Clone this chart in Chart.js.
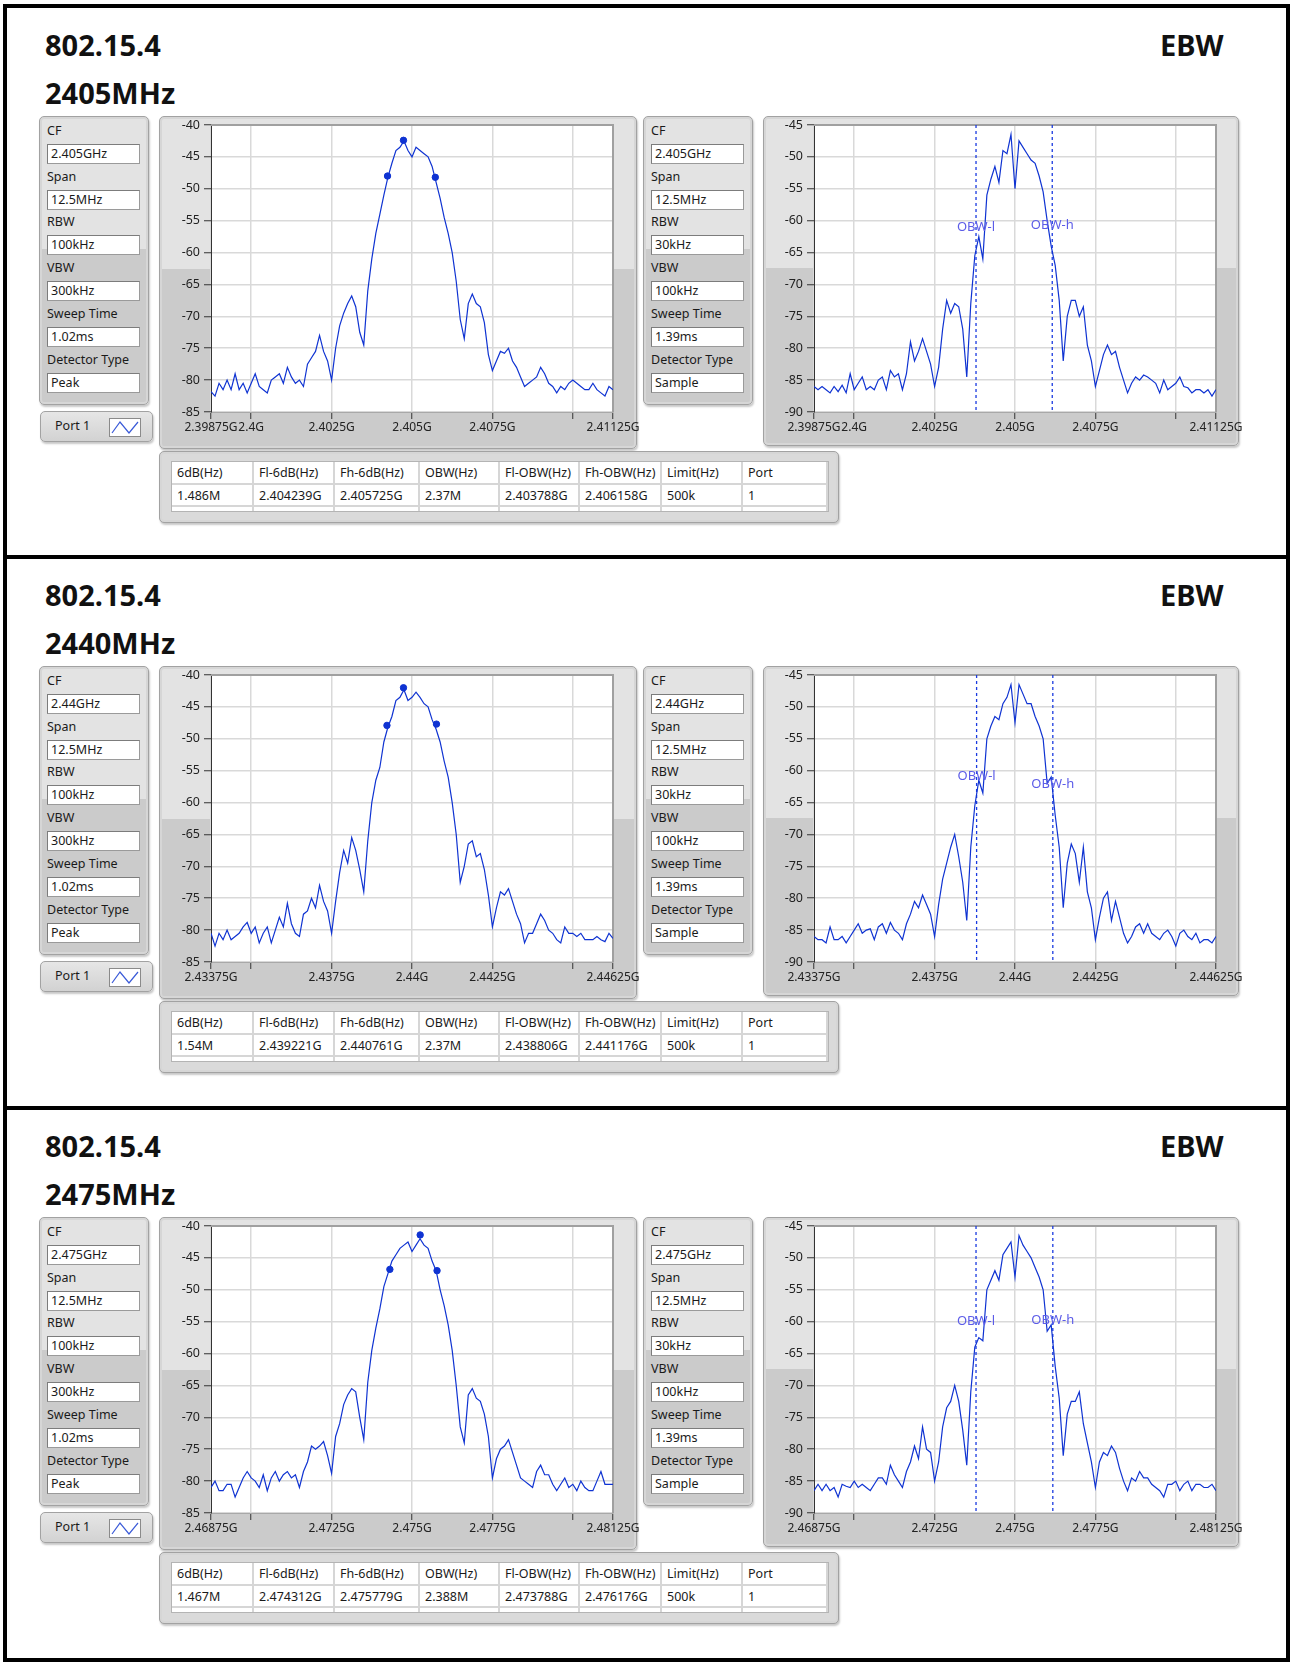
<!DOCTYPE html>
<html>
<head>
<meta charset="utf-8">
<title>802.15.4 EBW</title>
<script src="https://cdn.jsdelivr.net/npm/chart.js@4.4.1/dist/chart.umd.min.js"></script>
<style>
  body { margin: 0; width: 1290px; height: 1664px; background: #fff; position: relative; overflow: hidden;
         font-family: "Noto Sans", "Open Sans", sans-serif; color: #1a1a1a; }
  .frame { position: absolute; left: 3px; top: 4px; width: 1287px; height: 1658px; box-sizing: border-box; border: 4px solid #000; }
  .divider { position: absolute; left: 3px; width: 1287px; height: 4px; background: #000; }
  .section { position: absolute; left: 0; width: 1290px; height: 550px; }
  .title { position: absolute; font-weight: 700; font-size: 29px; line-height: 29px; color: #111; white-space: nowrap; }
  .panel { position: absolute; box-sizing: border-box; border: 1px solid #a2a2a2; border-radius: 5px;
           background: linear-gradient(#e3e3e3 0, #e3e3e3 46%, #cbcbcb 46%, #cbcbcb 100%);
           box-shadow: inset 0 0 0 2px #d6d6d6, 1px 2px 2px rgba(0,0,0,0.22); }
  .plabel { position: absolute; left: 7px; font-size: 12.5px; line-height: 18px; color: #1a1a1a; white-space: nowrap; }
  .pbox { position: absolute; left: 7px; width: 93px; height: 20px; box-sizing: border-box; background: #fff;
          border: 1px solid #9a9a9a; border-top-color: #7c7c7c; border-left-color: #7c7c7c;
          font-size: 12.5px; line-height: 18px; padding-left: 3px; white-space: nowrap; }
  .port { position: absolute; box-sizing: border-box; border: 1px solid #a2a2a2; border-radius: 5px;
          background: linear-gradient(#e6e6e6, #d2d2d2); box-shadow: 1px 2px 2px rgba(0,0,0,0.22); }
  .port span { position: absolute; left: 14px; top: 5px; font-size: 12.5px; line-height: 18px; }
  .port svg { position: absolute; left: 68px; top: 6px; }
  canvas { position: absolute; }
  table.res { position: absolute; left: 12px; top: 10px; border-collapse: collapse; table-layout: fixed; background: #fff;
              font-size: 12.5px; color: #1a1a1a; box-shadow: 0 0 0 1px #b4b4b4; }
  table.res td { border-right: 2px solid #d6d6d6; border-bottom: 2px solid #d6d6d6; padding: 0 0 0 5px; white-space: nowrap; overflow: hidden; }
  table.res tr.h td { height: 21px; }
  table.res tr.d td { height: 20px; }
  table.res tr.e td { height: 4px; padding: 0; border-bottom: none; }
</style>
</head>
<body>
<div class="frame"></div>
<div class="divider" style="top:555px"></div>
<div class="divider" style="top:1106px"></div>

<script>
// ---- data ----
const sectionTitles = ['2405MHz', '2440MHz', '2475MHz'];
const cfGHz = [2.405, 2.44, 2.475];

const paramNames = ['CF', 'Span', 'RBW', 'VBW', 'Sweep Time', 'Detector Type'];
const leftParams1 = ['2.405GHz', '12.5MHz', '100kHz', '300kHz', '1.02ms', 'Peak'];
const rightParams1 = ['2.405GHz', '12.5MHz', '30kHz', '100kHz', '1.39ms', 'Sample'];
const leftParams2 = ['2.44GHz', '12.5MHz', '100kHz', '300kHz', '1.02ms', 'Peak'];
const rightParams2 = ['2.44GHz', '12.5MHz', '30kHz', '100kHz', '1.39ms', 'Sample'];
const leftParams3 = ['2.475GHz', '12.5MHz', '100kHz', '300kHz', '1.02ms', 'Peak'];
const rightParams3 = ['2.475GHz', '12.5MHz', '30kHz', '100kHz', '1.39ms', 'Sample'];

const tableHeaders = ['6dB(Hz)', 'Fl-6dB(Hz)', 'Fh-6dB(Hz)', 'OBW(Hz)', 'Fl-OBW(Hz)', 'Fh-OBW(Hz)', 'Limit(Hz)', 'Port'];
const tableRow1 = ['1.486M', '2.404239G', '2.405725G', '2.37M', '2.403788G', '2.406158G', '500k', '1'];
const tableRow2 = ['1.54M', '2.439221G', '2.440761G', '2.37M', '2.438806G', '2.441176G', '500k', '1'];
const tableRow3 = ['1.467M', '2.474312G', '2.475779G', '2.388M', '2.473788G', '2.476176G', '500k', '1'];

// frequency offsets from CF (MHz) of the x ticks, and their labels
const tickOffsetsMHz = [-6.25, -5, -2.5, 0, 2.5, 5, 6.25];
const xTickLabels1 = ['2.39875G', '2.4G', '2.4025G', '2.405G', '2.4075G', '', '2.41125G'];
const xTickLabels2 = ['2.43375G', '', '2.4375G', '2.44G', '2.4425G', '', '2.44625G'];
const xTickLabels3 = ['2.46875G', '', '2.4725G', '2.475G', '2.4775G', '', '2.48125G'];

// sweep: 101 points across the 12.5 MHz span
const sweepStartMHz = -6.25;
const sweepStepMHz = 0.125;

// 6 dB bandwidth plots (dBm)
const traceL1 = [-81.8,-82.5,-80.5,-81.5,-80,-81.5,-79,-81.5,-80.5,-82,
  -80.5,-79,-81,-81.5,-82,-80,-79.5,-79,-80.5,-78,
  -79.5,-80.5,-80,-81,-77.5,-76.5,-75.5,-73,-75.5,-77,
  -80,-75,-71.5,-69.5,-68,-66.8,-68.5,-72.5,-74.5,-66,
  -61,-57,-54,-51,-48.2,-46,-44,-43.5,-42.5,-44,
  -45,-43.5,-44,-44.5,-45,-46.5,-49,-51.5,-54.5,-57,
  -60,-64.5,-70.5,-73.5,-68,-66.5,-68,-68.5,-71,-76,
  -78.5,-77,-75.5,-75.8,-75,-77,-78,-79.5,-81,-80.5,
  -80,-79.5,-78,-79,-80.5,-81,-82,-81,-81.5,-80.5,
  -80,-80.5,-81,-81.5,-81.5,-80.5,-81.5,-82,-82.5,-81,
  -81.5];
const traceL2 = [-80.5,-82.5,-80.5,-81.5,-80,-81.5,-81,-80.5,-79.5,-78.8,
  -80.5,-79.5,-82,-80.5,-79.5,-82,-80,-78,-79.5,-75.8,
  -79,-80.5,-81,-77.5,-77,-75,-76.5,-73,-75.5,-77,
  -80.5,-75.5,-71,-67.5,-69.5,-65.5,-67.5,-70.5,-74,-66,
  -60,-56.5,-54.5,-50.5,-48.2,-46.5,-44,-43.5,-42.3,-44,
  -43.5,-42.7,-43.5,-44.5,-45,-47,-48.5,-50.5,-53.5,-56,
  -60,-65,-72.5,-70,-66.5,-66,-68.5,-68,-70.5,-74.5,
  -79.5,-76.5,-74,-74.5,-73.5,-75.5,-77.5,-79,-82,-80.5,
  -80.5,-79,-77.5,-78.5,-80,-80.5,-81.5,-82,-79.5,-80.5,
  -80.5,-81,-80.5,-81.5,-81.5,-81.5,-81,-81.5,-81.8,-80.5,
  -81.3];
const traceL3 = [-81,-80,-81.5,-81.5,-80.5,-80.5,-82.5,-81,-79.5,-78.5,
  -79.5,-80,-81,-79,-81.5,-79.5,-78.5,-80,-79,-78.5,
  -79.5,-79,-81,-78.5,-77,-74.5,-75,-74.5,-73.8,-76,
  -78.8,-73,-71,-68,-66.5,-65.5,-66,-70,-73.5,-64.5,
  -59.5,-56,-53,-49.5,-47.5,-45.5,-44.5,-43.5,-43,-42.5,
  -44,-43,-42,-43,-43.5,-45.5,-47,-50,-52.5,-55.5,
  -59.5,-65,-71.5,-74,-66.5,-65.5,-67,-67.5,-69.5,-73,
  -79.5,-76.5,-75,-74.5,-73.5,-75.5,-77.5,-79.5,-80,-80.5,
  -81,-78.5,-77.5,-79,-79,-80.5,-81.5,-80.5,-79.5,-81,
  -80.5,-81.5,-80,-81,-81.5,-81.5,-80,-78.5,-80.5,-80.5,
  -80.5];

// occupied bandwidth plots (dBm)
const traceR1 = [-86,-86.5,-86,-86.5,-87,-86,-86.8,-85.8,-87,-84,
  -86.5,-85.5,-84.5,-86.5,-86,-86.5,-85,-84.5,-86.5,-83.5,
  -84.5,-84,-86.5,-84,-79,-82,-80.5,-78.5,-80.5,-82.5,
  -86,-83,-77,-72.5,-74.5,-73,-73.5,-77,-84.5,-73,
  -65.5,-62.5,-66,-56,-53.5,-51.5,-54,-49,-49.5,-46.5,
  -55,-47.5,-48.5,-49.5,-50.5,-51,-53,-55.5,-60,-64,
  -67,-72.5,-82,-75,-72.5,-72.5,-75,-73.5,-79.5,-82,
  -86,-83.5,-81,-79.5,-81,-80.5,-83,-85,-87,-85.5,
  -84.5,-85,-84.2,-84.5,-85,-85.5,-87,-85,-86.5,-86,
  -85.5,-84.5,-86,-86.2,-87,-86.5,-86.5,-87,-86.5,-87.5,
  -86.5];
const traceR2 = [-86,-86.5,-86.5,-87,-84.5,-86.5,-86.5,-86,-87,-86,
  -85,-84,-85.5,-85,-84.8,-86.5,-84.5,-84,-85.5,-83.8,
  -85,-85.5,-86.5,-84,-82.5,-80.5,-81.5,-79.5,-81,-82.5,
  -86,-81,-77,-74.5,-72,-70,-73.5,-77.5,-83.5,-72,
  -65.5,-61.5,-63.5,-55,-53,-51.5,-52,-49.5,-48.5,-46.5,
  -52.5,-46.5,-48,-49.5,-49.5,-51.5,-53,-55,-62,-61,
  -67,-72,-81.5,-74.5,-71.5,-73,-77.5,-72,-79,-81.5,
  -86.5,-83,-80,-79,-83.5,-80.5,-83,-85.5,-87,-86,
  -84.5,-84,-85.5,-84,-85.5,-86,-86.5,-85.5,-85,-86,
  -87.5,-85.5,-85,-86,-86.5,-85.5,-87,-86.5,-86.5,-87,
  -86];
const traceR3 = [-86.5,-85.5,-86.5,-85.5,-86.5,-86,-87.5,-85.5,-85.8,-86,
  -85,-86,-85.5,-86,-86.5,-85.5,-84.5,-84.5,-85.5,-82.5,
  -84,-85,-86,-83.5,-82,-79.5,-81.5,-76.5,-80,-80.5,
  -85,-82,-76.5,-73.5,-72.5,-70,-72.5,-77,-82.5,-71,
  -64,-62.5,-63,-55,-53.5,-52,-53.5,-49.5,-48.5,-47.5,
  -53,-46.5,-48,-49,-50,-51.5,-53,-55,-61.5,-60.5,
  -67,-72,-81,-74.5,-72.5,-72.5,-71,-76,-79,-82,
  -86,-82,-80.5,-81,-79.5,-80.5,-83,-85,-86.5,-84.5,
  -85,-83.5,-84.5,-84.5,-85.5,-86,-86.5,-87.5,-85.5,-85.5,
  -85,-86.5,-85.5,-85,-86.5,-85.5,-85.5,-86,-86,-85.5,
  -86.5];

// peak and -6 dB markers (GHz, dBm)
const markerX1 = [2.404735, 2.404239, 2.405725];
const markerY1 = [-42.4, -48.0, -48.2];
const markerX2 = [2.439735, 2.439221, 2.440761];
const markerY2 = [-42.0, -47.9, -47.7];
const markerX3 = [2.475254, 2.474312, 2.475779];
const markerY3 = [-41.4, -46.8, -47.0];

// OBW edges (GHz) and the level of their labels (dBm)
const obwX1 = [2.403788, 2.406158];
const obwLabelY1 = [-61.0, -60.7];
const obwX2 = [2.438806, 2.441176];
const obwLabelY2 = [-60.9, -62.1];
const obwX3 = [2.473788, 2.476176];
const obwLabelY3 = [-60.0, -59.8];

// ---- layout ----
const sectionTops = [0, 550, 1101];
const leftParamSets = [leftParams1, leftParams2, leftParams3];
const rightParamSets = [rightParams1, rightParams2, rightParams3];
const tableRows = [tableRow1, tableRow2, tableRow3];
const leftTraces = [traceL1, traceL2, traceL3];
const rightTraces = [traceR1, traceR2, traceR3];
const xTickLabelSets = [xTickLabels1, xTickLabels2, xTickLabels3];
const markerXs = [markerX1, markerX2, markerX3];
const markerYs = [markerY1, markerY2, markerY3];
const obwXs = [obwX1, obwX2, obwX3];
const obwLabelYs = [obwLabelY1, obwLabelY2, obwLabelY3];
const colWidths = [81, 81, 85, 80, 80, 82, 81, 85];

const TRACE = '#0f33d2';
Chart.defaults.font.family = '"Noto Sans", "Open Sans", sans-serif';
Chart.defaults.font.size = 12;
Chart.defaults.color = '#222';

function el(tag, cls, style, parent) {
  const e = document.createElement(tag);
  if (cls) e.className = cls;
  if (style) e.style.cssText = style;
  parent.appendChild(e);
  return e;
}

function paramPanel(parent, left, values) {
  const p = el('div', 'panel', `left:${left}px;top:116px;width:110px;height:289px;`, parent);
  paramNames.forEach((name, i) => {
    const lab = el('div', 'plabel', `top:${5 + i * 45.7}px;`, p);
    lab.textContent = name;
    const box = el('div', 'pbox', `top:${27 + i * 45.7}px;`, p);
    box.textContent = values[i];
  });
}

const plotFrame = {
  id: 'plotFrame',
  beforeDraw(chart) {
    const { ctx, chartArea: a } = chart;
    ctx.save();
    ctx.fillStyle = '#fff';
    ctx.fillRect(a.left, a.top, a.right - a.left, a.bottom - a.top);
    ctx.restore();
  },
  beforeDatasetsDraw(chart) {
    const { ctx, chartArea: a } = chart;
    ctx.save();
    ctx.strokeStyle = '#a0a0a0';
    ctx.lineWidth = 2;
    ctx.beginPath();
    ctx.moveTo(a.left, a.top);
    ctx.lineTo(a.right, a.top);
    ctx.lineTo(a.right, a.bottom);
    ctx.stroke();
    ctx.restore();
  },
  afterDatasetsDraw(chart, args, opts) {
    if (!opts.labels) return;
    const { ctx, scales } = chart;
    ctx.save();
    ctx.font = '13px "Noto Sans", sans-serif';
    ctx.fillStyle = '#5c5ce8';
    ctx.textAlign = 'center';
    ctx.textBaseline = 'middle';
    opts.labels.forEach(l => ctx.fillText(l.text, scales.x.getPixelForValue(l.x), scales.y.getPixelForValue(l.y)));
    ctx.restore();
  }
};

function spectrum(canvas, o) {
  const pts = o.trace.map((v, i) => ({ x: sweepStartMHz + i * sweepStepMHz, y: v }));
  const datasets = [{ data: pts, borderColor: TRACE, borderWidth: 1.2, pointRadius: 0, tension: 0 }];
  if (o.markersX) {
    datasets.push({
      data: o.markersX.map((f, i) => ({ x: (f - o.cf) * 1000, y: o.markersY[i] })),
      showLine: false, pointRadius: 3.2, pointBackgroundColor: TRACE, pointBorderColor: TRACE
    });
  }
  let labels = null;
  if (o.obwX) {
    o.obwX.forEach(f => datasets.push({
      data: [{ x: (f - o.cf) * 1000, y: o.yMax }, { x: (f - o.cf) * 1000, y: o.yMin }],
      borderColor: '#1a3ae0', borderWidth: 1.3, borderDash: [3, 3], pointRadius: 0
    }));
    labels = [
      { text: 'OBW-l', x: (o.obwX[0] - o.cf) * 1000, y: o.obwLabelY[0] },
      { text: 'OBW-h', x: (o.obwX[1] - o.cf) * 1000, y: o.obwLabelY[1] }
    ];
  }
  const gridCfg = { color: '#d9d9d9', lineWidth: 1.5, tickColor: '#333', tickLength: 7, tickWidth: 1 };
  return new Chart(canvas, {
    type: 'line',
    data: { datasets },
    plugins: [plotFrame],
    options: {
      responsive: false,
      animation: false,
      layout: { padding: { top: 9, right: o.padRight, left: 0, bottom: 0 } },
      plugins: { legend: { display: false }, tooltip: { enabled: false }, plotFrame: { labels } },
      scales: {
        x: {
          type: 'linear', min: -6.25, max: 6.25,
          afterBuildTicks: s => { s.ticks = tickOffsetsMHz.map(v => ({ value: v })); },
          ticks: { autoSkip: false, maxRotation: 0, padding: 1, callback: (v, i) => o.tickLabels[i] },
          grid: gridCfg,
          border: { display: true, color: '#a8a8a8', width: 1 },
          afterFit: s => { s.height = o.xAxisHeight; s.paddingLeft = 0; s.paddingRight = 0; }
        },
        y: {
          min: o.yMin, max: o.yMax,
          ticks: { stepSize: 5, padding: 4, font: { size: 12.5 } },
          grid: gridCfg,
          border: { display: true, color: '#333', width: 1 },
          afterFit: s => { s.width = o.yAxisWidth; s.paddingTop = 0; s.paddingBottom = 0; }
        }
      }
    }
  });
}

sectionTops.forEach((top, k) => {
  const sec = el('div', 'section', `top:${top}px;`, document.body);
  el('div', 'title', 'left:45px;top:30px;', sec).textContent = '802.15.4';
  el('div', 'title', 'left:45px;top:78px;', sec).textContent = sectionTitles[k];
  el('div', 'title', 'left:1160px;top:30px;', sec).textContent = 'EBW';

  paramPanel(sec, 39, leftParamSets[k]);
  paramPanel(sec, 643, rightParamSets[k]);

  const port = el('div', 'port', 'left:40px;top:411px;width:113px;height:31px;', sec);
  port.innerHTML = '<span>Port 1</span><svg width="32" height="19"><rect x="0.5" y="0.5" width="31" height="18" fill="#fff" stroke="#8a8a8a"/>' +
    '<polyline points="3,15 11,4 20,15 29,4" fill="none" stroke="#3a5ad8" stroke-width="1.2"/></svg>';

  el('div', 'panel', 'left:159px;top:116px;width:478px;height:333px;', sec);
  el('div', 'panel', 'left:763px;top:116px;width:476px;height:330px;', sec);

  const cL = el('canvas', null, 'left:159px;top:116px;', sec);
  cL.width = 484; cL.height = 333;
  spectrum(cL, {
    trace: leftTraces[k], cf: cfGHz[k], yMin: -85, yMax: -40, tickLabels: xTickLabelSets[k],
    markersX: markerXs[k], markersY: markerYs[k],
    yAxisWidth: 52, xAxisHeight: 37, padRight: 30
  });

  const cR = el('canvas', null, 'left:763px;top:116px;', sec);
  cR.width = 482; cR.height = 330;
  spectrum(cR, {
    trace: rightTraces[k], cf: cfGHz[k], yMin: -90, yMax: -45, tickLabels: xTickLabelSets[k],
    obwX: obwXs[k], obwLabelY: obwLabelYs[k],
    yAxisWidth: 51, xAxisHeight: 34, padRight: 29
  });

  const tp = el('div', 'panel', 'left:159px;top:451px;width:680px;height:72px;background:#dadada;', sec);
  const t = el('table', 'res', '', tp);
  const cg = el('colgroup', null, '', t);
  colWidths.forEach(w => el('col', null, `width:${w}px;`, cg));
  [[tableHeaders, 'h'], [tableRows[k], 'd'], [tableHeaders.map(() => ''), 'e']].forEach(([cells, cls]) => {
    const tr = el('tr', cls, '', t);
    cells.forEach(c => { el('td', null, '', tr).textContent = c; });
  });
});
</script>
</body>
</html>
